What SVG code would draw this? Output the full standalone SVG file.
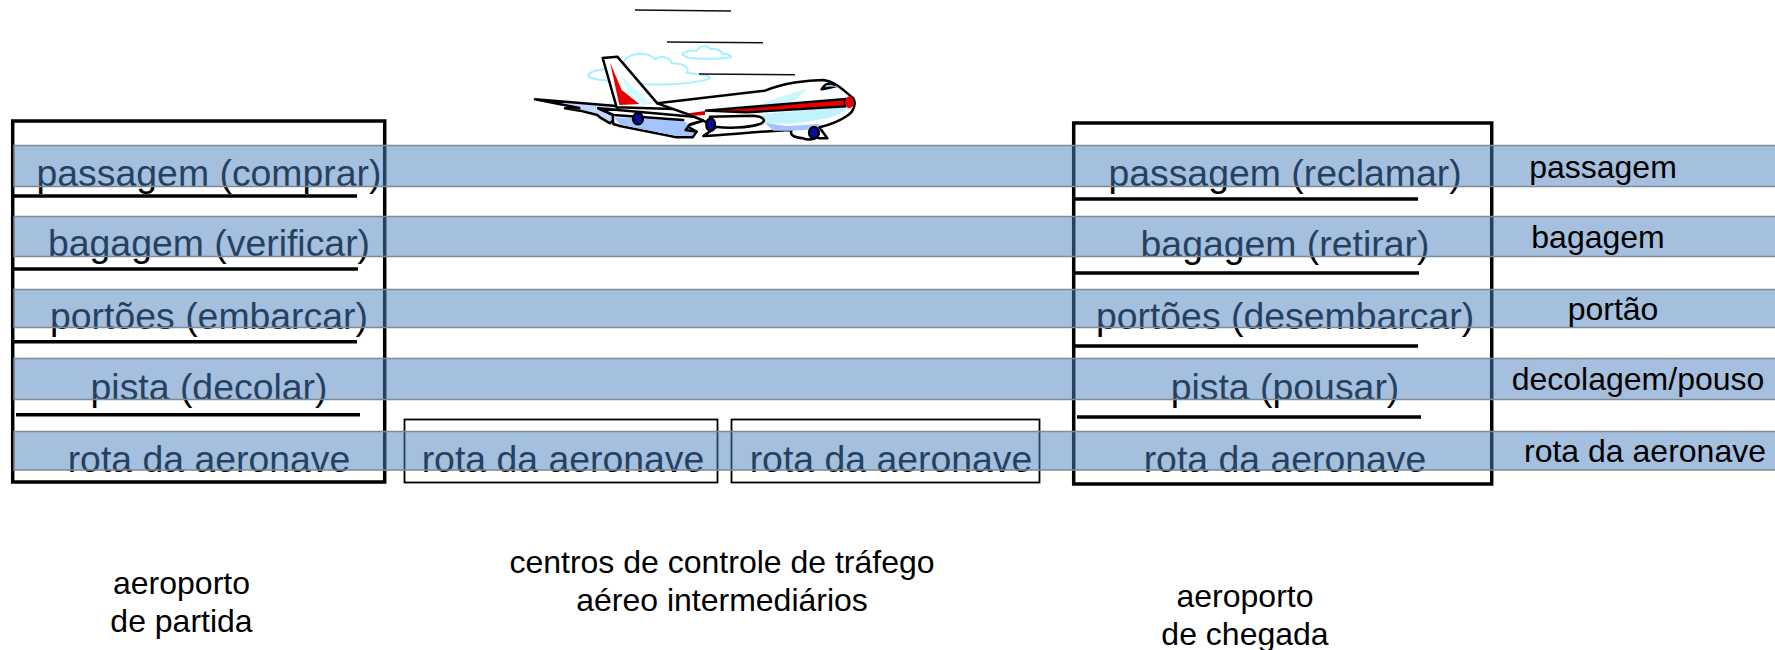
<svg xmlns="http://www.w3.org/2000/svg" width="1775" height="650" viewBox="0 0 1775 650">
<style>
text{font-family:"Liberation Sans",Arial,sans-serif}
.big{font-size:37.4px;fill:#000;text-anchor:middle}
.mid{font-size:32px;fill:#000;text-anchor:middle}
.frame{fill:none;stroke:#000;stroke-width:3.5}
.thin{fill:none;stroke:#000;stroke-width:1.8}
.rule{stroke:#000;stroke-width:3.5}
.band{fill:#4c80be;fill-opacity:.5;stroke:#7f8a96;stroke-width:1.5}
.speed{stroke:#111;stroke-width:1.6}
.cloud{fill:#fff;stroke:#a6f0ff;stroke-width:6;stroke-linejoin:round}
.ink{stroke:#000;stroke-width:7.5;stroke-linejoin:round;stroke-linecap:round}
.none{fill:none}
.wheel{fill:#0a0aa8;stroke:#000;stroke-width:7}
</style>
<rect width="1775" height="650" fill="#fff"/>
<g id="aeroporto-partida">
<rect class="frame" x="12.7" y="121" width="372" height="361"/>
<line class="rule" x1="14" y1="196" x2="357" y2="196"/>
<line class="rule" x1="14" y1="269" x2="358" y2="269"/>
<line class="rule" x1="14" y1="341.7" x2="357" y2="341.7"/>
<line class="rule" x1="16" y1="414.7" x2="360" y2="414.7"/>
<text class="big" x="209" y="186">passagem (comprar)</text>
<text class="big" x="209" y="256">bagagem (verificar)</text>
<text class="big" x="209" y="329">portões (embarcar)</text>
<text class="big" x="209" y="400">pista (decolar)</text>
<text class="big" x="209" y="472">rota da aeronave</text>
</g>
<g id="controle-1">
<rect class="thin" x="404.500" y="419.500" width="313" height="63"/>
<text class="big" x="563" y="472">rota da aeronave</text>
</g>
<g id="controle-2">
<rect class="thin" x="731.500" y="419.500" width="308" height="63"/>
<text class="big" x="891" y="472">rota da aeronave</text>
</g>
<g id="aeroporto-chegada">
<rect class="frame" x="1073.700" y="123" width="418" height="361"/>
<line class="rule" x1="1075" y1="199" x2="1418" y2="199"/>
<line class="rule" x1="1075" y1="273" x2="1419" y2="273"/>
<line class="rule" x1="1075" y1="346" x2="1418" y2="346"/>
<line class="rule" x1="1077" y1="417" x2="1421" y2="417"/>
<text class="big" x="1285" y="186">passagem (reclamar)</text>
<text class="big" x="1285" y="257">bagagem (retirar)</text>
<text class="big" x="1285" y="329">portões (desembarcar)</text>
<text class="big" x="1285" y="400">pista (pousar)</text>
<text class="big" x="1285" y="472">rota da aeronave</text>
</g>
<g id="camadas">
<rect class="band" x="14" y="145.500" width="1762" height="41"/>
<rect class="band" x="14" y="216.500" width="1762" height="40"/>
<rect class="band" x="14" y="289.500" width="1762" height="38"/>
<rect class="band" x="14" y="358.500" width="1762" height="41"/>
<rect class="band" x="14" y="431.500" width="1762" height="38.500"/>
</g>
<g id="rotulos-camadas">
<text class="mid" x="1603" y="178">passagem</text>
<text class="mid" x="1598" y="248">bagagem</text>
<text class="mid" x="1613" y="320">portão</text>
<text class="mid" x="1638" y="390">decolagem/pouso</text>
<text class="mid" x="1645" y="462">rota da aeronave</text>
</g>
<g id="legendas">
<text class="mid" x="181.500" y="594">aeroporto</text>
<text class="mid" x="181.500" y="632">de partida</text>
<text class="mid" x="722" y="573">centros de controle de tráfego</text>
<text class="mid" x="722" y="611">aéreo intermediários</text>
<text class="mid" x="1245" y="607">aeroporto</text>
<text class="mid" x="1245" y="645">de chegada</text>
</g>
<g id="aviao">
<line class="speed" x1="635" y1="10" x2="731" y2="11"/>
<line class="speed" x1="667" y1="42" x2="763" y2="42.700"/>
<g transform="translate(520 0) scale(.3333)">
<!-- clouds behind the tail -->
<path class="cloud" d="M487,163C500,150 515,150 530,152C540,135 565,135 572,148C590,145 605,152 605,160C625,162 636,167 632,172C600,178 520,178 500,172Z"/>
<path class="cloud" d="M315,180C335,155 385,155 405,178C420,165 450,170 455,190C495,190 510,205 500,218C520,222 565,222 570,232C570,245 450,258 370,252C300,240 215,245 205,228C200,215 250,205 300,205Z"/>
<!-- far wing -->
<path class="ink" fill="#c3d6ff" d="M45,298L290,318L300,340L270,370L240,352L232,345L180,332L135,325L178,324Z"/>
<!-- tail fin -->
<path class="ink" fill="#fff" d="M248,174L292,170L412,310L560,330L290,322Z"/>
<path fill="#d6fbff" d="M300,222L395,312L300,318L322,275Z"/>
<path fill="#e80000" d="M270,187L305,270L358,312L298,315Z"/>
<!-- fuselage -->
<path class="ink" fill="#fff" d="M412,310L735,272C790,250 860,240 910,240C950,245 980,280 1000,295C1010,310 1000,335 985,345C950,370 915,378 898,382L922,415L898,415L890,412C880,420 860,420 850,415C820,412 808,405 815,390C700,395 620,405 550,408L590,380L510,345Z"/>
<path fill="#ccf7ff" d="M640,345L760,298L860,265L830,300L700,335Z"/>
<path fill="#bff4ff" d="M700,345L975,318C985,335 940,355 880,362C810,375 760,370 735,368Z"/>
<path fill="#a3c4ff" d="M735,368L800,378L900,372L890,388L810,392L760,392Z"/>
<path fill="#e80000" stroke="#000" stroke-width="7" d="M555,332L975,297L975,319L680,337Z"/>
<path fill="#e80000" d="M505,340L555,333L555,345L525,347Z"/>
<path fill="none" stroke="#6a0000" stroke-width="3" stroke-dasharray="4 3" d="M515,342L555,338M610,335L812,315"/>
<ellipse cx="988" cy="307" rx="13" ry="18" fill="#e80000"/>
<path class="ink" fill="#fff" d="M905,268C915,250 935,245 950,258C935,262 920,264 905,268Z"/>
<path fill="none" stroke="#6aa8e8" stroke-width="4" d="M918,257L952,260"/>
<!-- near wing -->
<path class="ink" fill="#fff" d="M235,325L520,350L550,362L500,378L530,395L518,412L470,412L300,378L280,372L278,345Z"/>
<path fill="#a3c4ff" d="M282,352L490,362L510,376L497,392L520,398L515,408L470,408L300,374Z"/>
<path class="ink none" d="M235,325L280,345L490,360"/>
<path class="ink none" d="M550,362L510,373L497,390L530,395"/>
<!-- engine nacelle -->
<path class="ink" fill="#fff" d="M570,350L700,347C735,350 740,365 720,372C680,385 620,385 585,380Z"/>
<ellipse class="wheel" cx="354" cy="356" rx="15" ry="17"/>
<ellipse class="wheel" cx="572" cy="374" rx="13" ry="19"/>
<ellipse class="wheel" cx="882" cy="398" rx="15" ry="17"/>
</g>
<line class="speed" x1="699" y1="74" x2="795" y2="74.700"/>
</g>
</svg>
